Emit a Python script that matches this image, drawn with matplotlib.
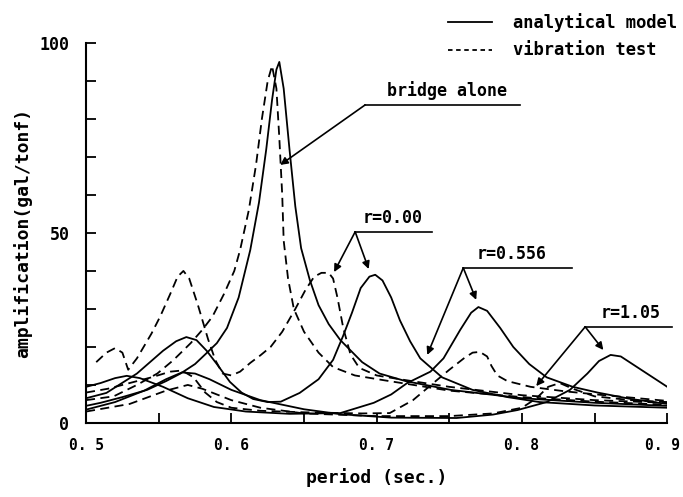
import matplotlib
matplotlib.use("Agg")
import matplotlib.pyplot as plt
import matplotlib.transforms as mtransforms

# ---- data ----
bridge_sol_x = [0.50, 0.51, 0.525, 0.542, 0.555, 0.565, 0.575, 0.583, 0.59, 0.597, 0.605, 0.613, 0.619, 0.624,
                0.628, 0.631, 0.633, 0.636, 0.640, 0.644, 0.648, 0.654, 0.66, 0.667, 0.675, 0.69, 0.702, 0.72,
                0.751, 0.80, 0.85, 0.90]
bridge_sol_y = [4.5, 5.3, 6.8, 8.7, 11, 13, 15.5, 18.4, 21, 25, 33, 45.5, 58, 72,
                85, 93, 95, 88, 72, 57, 46, 37.6, 31, 26, 21.8, 16, 13, 11,
                8.7, 6.5, 5.3, 4.5]

bridge_test_x = [0.50, 0.519, 0.535, 0.549, 0.56, 0.572, 0.58, 0.587, 0.595, 0.602, 0.606, 0.612, 0.617, 0.621,
                 0.625, 0.628, 0.631, 0.633, 0.635, 0.636, 0.639, 0.643, 0.65, 0.66, 0.67, 0.685, 0.704, 0.75,
                 0.80, 0.85, 0.90]
bridge_test_y = [6, 7, 10, 13, 16.5, 21, 24.5, 28, 34, 40, 45.5, 56, 68, 80,
                 90, 94, 88, 75, 60, 48, 38, 30, 24, 18.5, 14.7, 12.5, 11.3, 8.5,
                 6.8, 5.6, 4.8]

r000_sol_x = [0.50, 0.514, 0.535, 0.553, 0.562, 0.569, 0.576, 0.583, 0.59, 0.599, 0.607, 0.615, 0.625, 0.634,
              0.647, 0.66, 0.67, 0.677, 0.683, 0.689, 0.695, 0.699, 0.704, 0.71, 0.716, 0.723, 0.73, 0.745,
              0.766, 0.79, 0.812, 0.85, 0.90]
r000_sol_y = [6.5, 7.9, 13, 19, 21.5, 22.6, 21.8, 19, 15.5, 10.8, 8, 6.3, 5.5, 5.6,
              7.9, 11.5, 16.6, 23, 29, 35.5, 38.5, 39, 37.5, 33, 27, 21.5, 17, 12,
              8.7, 6.8, 5.5, 4.6, 4.0]

r000_test_x = [0.507, 0.514, 0.52, 0.525, 0.529, 0.535, 0.545, 0.551, 0.558, 0.563, 0.567, 0.571, 0.577, 0.584,
               0.589, 0.594, 0.60, 0.606, 0.613, 0.62, 0.627, 0.635, 0.644, 0.651, 0.657, 0.662, 0.667, 0.67,
               0.673, 0.677, 0.682, 0.688, 0.70, 0.716, 0.75, 0.80, 0.85, 0.90]
r000_test_y = [16, 18.5, 19.7, 18.5, 14, 17, 23.5, 28, 34, 38.5, 40, 38, 31, 22,
               16.5, 13, 12.5, 13.5, 15.8, 17.8, 20, 24, 30, 35, 38.5, 39.5, 39.5, 38,
               33, 25, 18, 14.5, 12.5, 11.5, 9.5, 7.3, 6.0, 5.3]

r556_sol_x = [0.50, 0.51, 0.52, 0.528, 0.537, 0.553, 0.57, 0.588, 0.61, 0.64, 0.675, 0.698, 0.71, 0.721,
              0.737, 0.746, 0.7575, 0.765, 0.77, 0.776, 0.785, 0.794, 0.805, 0.817, 0.835, 0.852, 0.875, 0.90]
r556_sol_y = [9.5, 10.5, 11.8, 12.4, 11.8, 9.5, 6.5, 4.2, 3.0, 2.4, 2.6, 5.3, 7.5, 10.5,
              13.5, 17, 24.5, 29, 30.5, 29.5, 25, 20, 15.5, 12, 9.5, 8, 6.3, 5.0]

r556_test_x = [0.50, 0.515, 0.53, 0.545, 0.558, 0.566, 0.574, 0.582, 0.59, 0.60, 0.62, 0.65, 0.69, 0.709,
               0.725, 0.739, 0.75, 0.76, 0.766, 0.771, 0.776, 0.779, 0.783, 0.79, 0.806, 0.83, 0.854, 0.90]
r556_test_y = [8, 9, 10.5, 12, 13.5, 13.8, 12, 8, 5.5, 4, 3.2, 2.8, 2.5, 2.6,
               6, 10.5, 14, 17, 18.5, 18.7, 17.5, 15, 12.5, 11, 9.5, 8.3, 7.4, 5.8]

r105_sol_x = [0.50, 0.52, 0.54, 0.555, 0.566, 0.575, 0.585, 0.60, 0.62, 0.65, 0.675, 0.71, 0.755, 0.78,
              0.797, 0.817, 0.833, 0.845, 0.853, 0.861, 0.868, 0.878, 0.89, 0.90]
r105_sol_y = [3.5, 5.5, 8.5, 11.5, 13.3, 13, 11.5, 8.7, 6, 3.6, 2.3, 1.4, 1.3, 2.2,
              3.4, 5.5, 8.7, 13, 16.3, 17.9, 17.5, 15, 12, 9.5]

r105_test_x = [0.50, 0.53, 0.555, 0.57, 0.58, 0.60, 0.62, 0.65, 0.70, 0.75, 0.78, 0.80, 0.81, 0.818,
               0.826, 0.835, 0.85, 0.875, 0.90]
r105_test_y = [3, 5, 8.5, 10, 9, 6, 4, 2.5, 1.8, 1.8, 2.5, 4, 6.5, 9.5,
               10.5, 9, 7, 6, 5.5]

x_ticks = [0.5, 0.6, 0.7, 0.8, 0.9]
x_tick_labels = ["0. 5", "0. 6", "0. 7", "0. 8", "0. 9"]
y_ticks = [0, 50, 100]
y_tick_labels = ["0", "50", "100"]

FONT = dict(family="DejaVu Sans Mono", weight="bold")

fig = plt.figure(figsize=(6.83, 4.97), dpi=100)
ax = fig.add_axes([0.126, 0.149, 0.851, 0.7646])

solid = dict(color="black", lw=1.3, ls="-")
dashed = dict(color="black", lw=1.3, ls=(0, (5, 3)))

for xs, ys in [(bridge_sol_x, bridge_sol_y), (r000_sol_x, r000_sol_y),
               (r556_sol_x, r556_sol_y), (r105_sol_x, r105_sol_y)]:
    ax.plot(xs, ys, **solid)
for xs, ys in [(bridge_test_x, bridge_test_y), (r000_test_x, r000_test_y),
               (r556_test_x, r556_test_y), (r105_test_x, r105_test_y)]:
    ax.plot(xs, ys, **dashed)

ax.set_xlim(0.5, 0.9)
ax.set_ylim(0, 100)
for s in ["top", "right"]:
    ax.spines[s].set_visible(False)
for s in ["left", "bottom"]:
    ax.spines[s].set_linewidth(1.5)

ax.set_xticks([0.5 + 0.05 * i for i in range(9)], minor=True)
ax.set_yticks(list(range(0, 101, 10)), minor=True)
ax.set_xticks(x_ticks)
ax.set_xticklabels(x_tick_labels, fontsize=10.5, **FONT)
ax.set_yticks(y_ticks)
ax.set_yticklabels(y_tick_labels, fontsize=12, **FONT)
ax.tick_params(which="both", direction="in", length=7, width=1.3)
ax.tick_params(axis="x", which="major", pad=11)
ax.tick_params(axis="y", which="major", pad=12)
# keep the last x tick label inside the figure
last = ax.get_xticklabels()[-1]
last.set_transform(last.get_transform() + mtransforms.ScaledTranslation(-5 / 100, 0, fig.dpi_scale_trans))

ax.set_xlabel("period (sec.)", fontsize=13, labelpad=11, **FONT)
ax.set_ylabel("amplification(gal/tonf)", fontsize=13, labelpad=5, **FONT)

# legend (drawn by hand, as in the original)
ax.plot([0.7492, 0.7795], [105.5, 105.5], color="black", lw=1.3, clip_on=False)
ax.plot([0.7492, 0.7795], [98.2, 98.2], color="black", lw=1.3, ls=(0, (2.5, 2)), clip_on=False)
ax.text(0.794, 105.5, "analytical model", fontsize=12.3, va="center", ha="left", **FONT)
ax.text(0.794, 98.2, "vibration test", fontsize=12.3, va="center", ha="left", **FONT)

arrow = dict(arrowstyle="-|>", lw=1.2, color="black", mutation_scale=11, shrinkA=0, shrinkB=0)
line = dict(color="black", lw=1.2, clip_on=False)

# bridge alone
ax.plot([0.6921, 0.7988], [83.7, 83.7], **line)
ax.annotate("", xy=(0.6336, 67.9), xytext=(0.6921, 83.7), arrowprops=arrow)
ax.text(0.7485, 85.0, "bridge alone", fontsize=12, ha="center", va="bottom", **FONT)

# r=0.00
ax.plot([0.6852, 0.7382], [50.3, 50.3], **line)
ax.annotate("", xy=(0.6707, 39.7), xytext=(0.6852, 50.3), arrowprops=arrow)
ax.annotate("", xy=(0.6945, 40.5), xytext=(0.6852, 50.3), arrowprops=arrow)
ax.text(0.7107, 51.5, "r=0.00", fontsize=12, ha="center", va="bottom", **FONT)

# r=0.556
ax.plot([0.7596, 0.8346], [40.8, 40.8], **line)
ax.annotate("", xy=(0.7685, 32.4), xytext=(0.7596, 40.8), arrowprops=arrow)
ax.annotate("", xy=(0.7348, 17.9), xytext=(0.7596, 40.8), arrowprops=arrow)
ax.text(0.7926, 42.0, "r=0.556", fontsize=12, ha="center", va="bottom", **FONT)

# r=1.05
ax.plot([0.8435, 0.9034], [25.3, 25.3], **line)
ax.annotate("", xy=(0.856, 19.2), xytext=(0.8435, 25.3), arrowprops=arrow)
ax.annotate("", xy=(0.8098, 9.7), xytext=(0.8435, 25.3), arrowprops=arrow)
ax.text(0.875, 26.6, "r=1.05", fontsize=12, ha="center", va="bottom", **FONT)

fig.savefig("out.png", dpi=100)
